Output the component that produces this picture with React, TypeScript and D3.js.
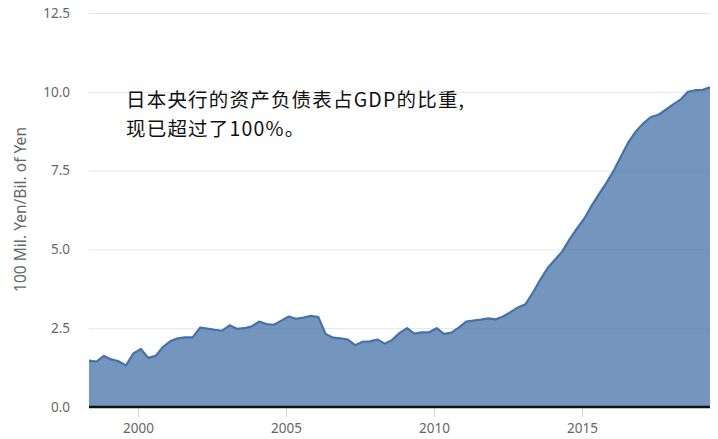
import React, { useMemo } from 'react'
import * as d3 from 'd3'

const width = 718
const height = 439
const margin = { top: 13, right: 8, bottom: 32, left: 89 }

// quarterly series, first point is 1998 Q2
const startYear = 1998
const startQuarter = 2
const ratioValues = [
  1.47, 1.44, 1.62, 1.51, 1.45, 1.32, 1.70, 1.84, 1.56, 1.62,
  1.91, 2.09, 2.18, 2.21, 2.21, 2.52, 2.49, 2.45, 2.42, 2.59,
  2.48, 2.50, 2.56, 2.71, 2.63, 2.61, 2.74, 2.87, 2.80, 2.84,
  2.89, 2.85, 2.32, 2.20, 2.18, 2.14, 1.96, 2.07, 2.08, 2.14,
  2.01, 2.13, 2.35, 2.50, 2.33, 2.37, 2.37, 2.50, 2.32, 2.36,
  2.52, 2.71, 2.74, 2.77, 2.81, 2.78, 2.87, 3.01, 3.16, 3.26,
  3.61, 4.03, 4.40, 4.67, 4.93, 5.32, 5.67, 5.99, 6.39, 6.76,
  7.12, 7.52, 7.97, 8.42, 8.76, 9.01, 9.20, 9.27, 9.43, 9.60,
  9.75, 10.00, 10.05, 10.06, 10.14,
]
const yTicks = [0, 2.5, 5, 7.5, 10, 12.5]
const xTickYears = [2000, 2005, 2010, 2015]
const yAxisTitle = '100 Mil. Yen/Bil. of Yen'
const noteLines = ['日本央行的资产负债表占GDP的比重,', '现已超过了100%。']

const seriesColor = '#4572A7'
const labelFont = '"Noto Sans", "DejaVu Sans", sans-serif'
const cjkFont = '"Noto Sans CJK SC", sans-serif'

type Point = { date: Date, value: number }

function App() {
  const data: Point[] = useMemo(
    () => ratioValues.map((value, i) => ({
      // middle month of each quarter
      date: new Date(startYear, (startQuarter - 1) * 3 + i * 3 + 1, 1),
      value,
    })),
    []
  )

  const x = useMemo(
    () => d3.scaleTime()
      .domain(d3.extent(data, d => d.date) as [Date, Date])
      .range([margin.left, width - margin.right]),
    [data]
  )

  const y = useMemo(
    () => d3.scaleLinear().domain([0, 12.5]).range([height - margin.bottom, margin.top]),
    []
  )

  const areaFn = d3.area<Point>()
    .x(d => x(d.date))
    .y0(y(0))
    .y1(d => y(d.value))
  const lineFn = d3.line<Point>()
    .x(d => x(d.date))
    .y(d => y(d.value))

  const x0 = margin.left
  const x1 = width - margin.right

  return (
    <svg width={width} height={height} style={{ position: 'absolute', left: 0, top: 0, background: '#fff' }}>
      {yTicks.map(t => (
        <g key={t}>
          {t > 0 && <line x1={x0} x2={x1} y1={y(t) + 0.5} y2={y(t) + 0.5} stroke="#e6e6e6" strokeWidth={1} />}
          <text
            x={70}
            y={y(t)}
            dy="0.35em"
            textAnchor="end"
            fill="#666"
            fontSize={13.5}
            fontFamily={labelFont}
          >
            {d3.format('.1f')(t)}
          </text>
        </g>
      ))}

      <path d={areaFn(data)!} fill={seriesColor} fillOpacity={0.75} />
      <path d={lineFn(data)!} fill="none" stroke={seriesColor} strokeWidth={2.2} strokeLinejoin="round" />

      {/* x axis */}
      {xTickYears.map(yr => {
        const xp = Math.round(x(new Date(yr, 0, 1))) + 0.5
        return (
          <g key={yr}>
            <line x1={xp} x2={xp} y1={y(0)} y2={y(0) + 10} stroke="#ccd6eb" strokeWidth={1} />
            <text
              x={xp}
              y={433}
              textAnchor="middle"
              fill="#666"
              fontSize={13.5}
              fontFamily={labelFont}
            >
              {yr}
            </text>
          </g>
        )
      })}
      <line x1={x0} x2={x1} y1={y(0)} y2={y(0)} stroke="#111" strokeWidth={2.5} />

      <text
        transform={`translate(25.5,${(127 + 292) / 2}) rotate(-90)`}
        textAnchor="middle"
        fill="#666"
        fontSize={15.5}
        fontFamily={labelFont}
        textLength={165}
        lengthAdjust="spacing"
      >
        {yAxisTitle}
      </text>

      {/* annotation, two lines in one text block */}
      <text x={126} y={107} fill="#111" fontSize={19.5} letterSpacing={1.2} fontFamily={cjkFont}>
        {noteLines.map((line, i) => (
          <tspan key={i} x={126} dy={i === 0 ? 0 : 28.5}>{line}</tspan>
        ))}
      </text>
    </svg>
  )
}

export default App
